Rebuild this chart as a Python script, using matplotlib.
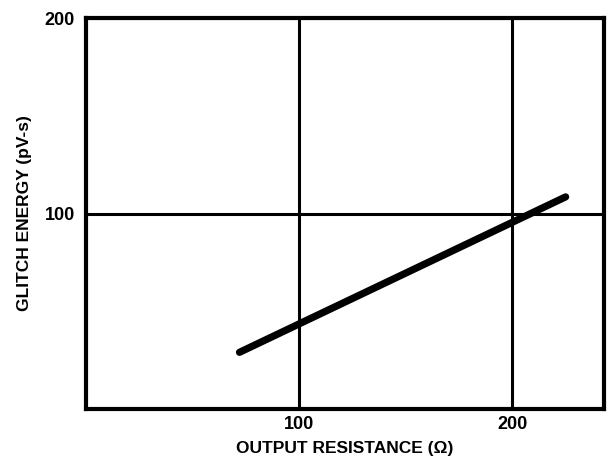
import numpy as np
import matplotlib
matplotlib.use("Agg")
import matplotlib.pyplot as plt

# data
resistance = [72, 225]        # ohms
glitch = [29, 108.5]          # pV-s
xticks = [100, 200]
yticks = [100, 200]

plt.rcParams['font.family'] = ['Liberation Sans', 'DejaVu Sans']

fig = plt.figure(figsize=(6.11, 4.63), dpi=100)
ax = fig.add_axes([0.1408, 0.1166, 0.8477, 0.8445])

ax.plot(resistance, glitch, color='black', lw=5.2, solid_capstyle='round', zorder=3)

ax.set_xlim(0, 243)
ax.set_ylim(0, 200)
ax.set_xticks(xticks)
ax.set_yticks(yticks)
ax.set_xticklabels([str(v) for v in xticks], fontsize=13, fontweight='bold')
ax.set_yticklabels([str(v) for v in yticks], fontsize=13, fontweight='bold')
ax.tick_params(axis='x', length=0, pad=5)
ax.tick_params(axis='y', length=0, pad=8)
ax.grid(True, color='black', lw=2.2)
for s in ax.spines.values():
    s.set_linewidth(3)

ax.set_xlabel('OUTPUT RESISTANCE (\u03a9)', fontsize=12.5, fontweight='bold', labelpad=6)
ax.set_ylabel('GLITCH ENERGY (pV-s)', fontsize=12.5, fontweight='bold', labelpad=9)

fig.savefig('out.png', dpi=100)
